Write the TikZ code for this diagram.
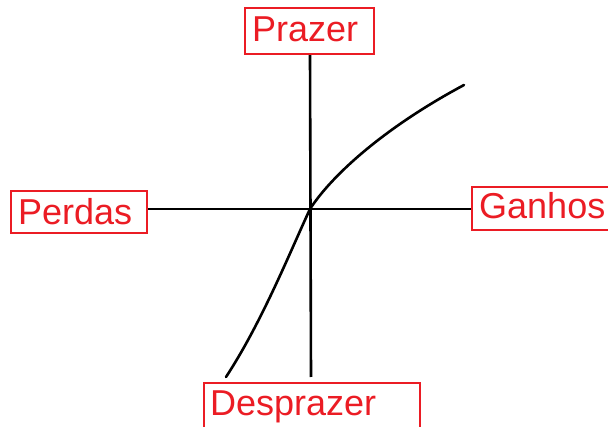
\documentclass[tikz,border=0pt]{standalone}
\usepackage{fontspec}
\setmainfont{Liberation Sans}
\definecolor{lblred}{RGB}{235,28,36}
\begin{document}
\begin{tikzpicture}[x=1pt,y=-1pt,
  box/.style={draw=lblred,line width=2.2pt,rectangle,inner sep=0pt},
  lbl/.style={text=lblred,font=\fontsize{36}{42}\selectfont,inner sep=0pt,anchor=base west},
  axis/.style={line width=2.6pt,black},
  curveline/.style={line width=2.6pt,black,line cap=round}]
\useasboundingbox (0,0) rectangle (608,427);
\begin{scope}
\clip (0,0) rectangle (608,427);
% boxes
\node[box,minimum width=129pt,minimum height=46pt] (prazerbox) at (309.5,31) {};
\node[box,minimum width=136pt,minimum height=42pt] (perdasbox) at (79,212) {};
\node[box,minimum width=138pt,minimum height=43pt] (ganhosbox) at (541,208.5) {};
\node[box,minimum width=216pt,minimum height=70pt] (despbox) at (312,418) {};
\end{scope}
% labels
\node[lbl] (prazer) at (252,42) {Prazer};
\node[lbl] (perdas) at (18,225) {Perdas};
\node[lbl] (ganhos) at (479,219) {Ganhos};
\node[lbl] (desprazer) at (210,416) {Desprazer};
% axes
\coordinate (vbot) at (311,377);
\coordinate (origin) at (310,209);
\draw[axis] (prazerbox.south -| origin) -- (vbot);
\draw[axis] (perdasbox.east |- origin) -- (ganhosbox.west |- origin);
% curve
\coordinate (cstart) at (226,377);
\coordinate (cend) at (464,85);
\draw[curveline] (cstart) .. controls (262,322) and (290,252) .. (origin)
  .. controls (330,178) and (380,130) .. (cend);
\end{tikzpicture}
\end{document}
